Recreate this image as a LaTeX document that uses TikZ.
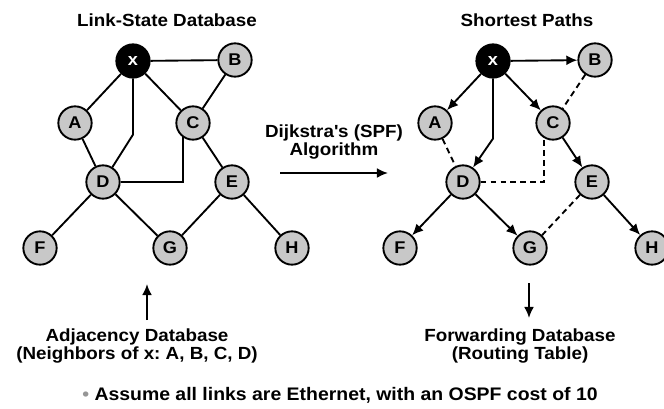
\documentclass[tikz,border=0pt]{standalone}
\usepackage{fontspec}
\setmainfont{Liberation Sans}[FakeStretch=1.07]
\usetikzlibrary{arrows.meta}
\definecolor{routergray}{RGB}{200,200,200}
\definecolor{dotgray}{RGB}{150,150,150}
\tikzstyle{router} = [circle, draw=black, line width=1.6pt, fill=routergray, minimum size=1cm, inner sep=0pt, font=\fontsize{14.5}{14.5}\selectfont\bfseries]
\tikzstyle{self} = [router, fill=black, text=white]
\tikzstyle{heading} = [align=center, inner sep=0pt, font=\fontsize{15}{15}\selectfont\bfseries]
\tikzstyle{link} = [line width=1.6pt]
\tikzstyle{spare} = [line width=1.6pt, dash pattern=on 5pt off 3.5pt]
\tikzstyle{arrow} = [line width=1.6pt, -{Latex[length=9.5pt,width=8.5pt]}]

\begin{document}
\frenchspacing
\begin{tikzpicture}[x=0.03cm, y=-0.03cm, node distance=10.8cm]
\useasboundingbox (0,0) rectangle (664,408);

% link-state database
\node (ltitle) [heading] at (167,20) {Link-State Database};
\node (lx) [self] at (133,61) {x};
\node (lB) [router] at (235,60) {B};
\node (lA) [router] at (75,123) {A};
\node (lC) [router] at (193,123) {C};
\node (lD) [router] at (103,182) {D};
\node (lE) [router] at (232,182) {E};
\node (lF) [router] at (40,248) {F};
\node (lG) [router] at (170,248) {G};
\node (lH) [router] at (292,248) {H};

\draw [link] (lx) -- (lB);
\draw [link] (lx) -- (lA);
\draw [link] (lx) -- (lC);
\draw [link] (lx.south) -- ++(0,56) -- (lD);
\draw [link] (lC) -- (lB);
\draw [link] (lA) -- (lD);
\draw [link] (lD) -| (lC.-125);
\draw [link] (lC) -- (lE);
\draw [link] (lD) -- (lF);
\draw [link] (lD) -- (lG);
\draw [link] (lE) -- (lG);
\draw [link] (lE) -- (lH);

% shortest paths
\node (rtitle) [heading, right of=ltitle] {Shortest Paths};
\node (rx) [self, right of=lx] {x};
\node (rB) [router, right of=lB] {B};
\node (rA) [router, right of=lA] {A};
\node (rC) [router, right of=lC] {C};
\node (rD) [router, right of=lD] {D};
\node (rE) [router, right of=lE] {E};
\node (rF) [router, right of=lF] {F};
\node (rG) [router, right of=lG] {G};
\node (rH) [router, right of=lH] {H};

\draw [arrow] (rx) -- (rB);
\draw [arrow] (rx) -- (rA);
\draw [arrow] (rx) -- (rC);
\draw [arrow] (rx.south) -- ++(0,60) -- (rD);
\draw [arrow] (rC) -- (rE);
\draw [arrow] (rD) -- (rF);
\draw [arrow] (rD) -- (rG);
\draw [arrow] (rE) -- (rH);
\draw [spare] (rB) -- (rC);
\draw [spare] (rA) -- (rD);
\draw [spare] (rD) -| (rC.-121);
\draw [spare] (rE) -- (rG);

% algorithm
\node (spf) [heading] at (334,142) {Dijkstra\textquotesingle s (SPF)\\Algorithm};
\coordinate (spfin) at (280,173);
\coordinate (spfout) at (388,173);
\draw [arrow] (spfin) -- (spfout);

% databases
\node (adj) [heading] at (137,346) {Adjacency Database\\(Neighbors of x: A, B, C, D)};
\coordinate (adjbase) at (147,320);
\coordinate (adjtip) at (147,284);
\draw [arrow] (adjbase) -- (adjtip);

\node (fwd) [heading] at (520,346) {Forwarding Database\\(Routing Table)};
\coordinate (fwdbase) at (529,283);
\coordinate (fwdtip) at (529,318);
\draw [arrow] (fwdbase) -- (fwdtip);

\node (note) [heading, font=\fontsize{15.5}{15.5}\selectfont\bfseries] at (340,395) {\textcolor{dotgray}{\textbullet}\ Assume all links are Ethernet, with an OSPF cost of 10};

\end{tikzpicture}
\end{document}
